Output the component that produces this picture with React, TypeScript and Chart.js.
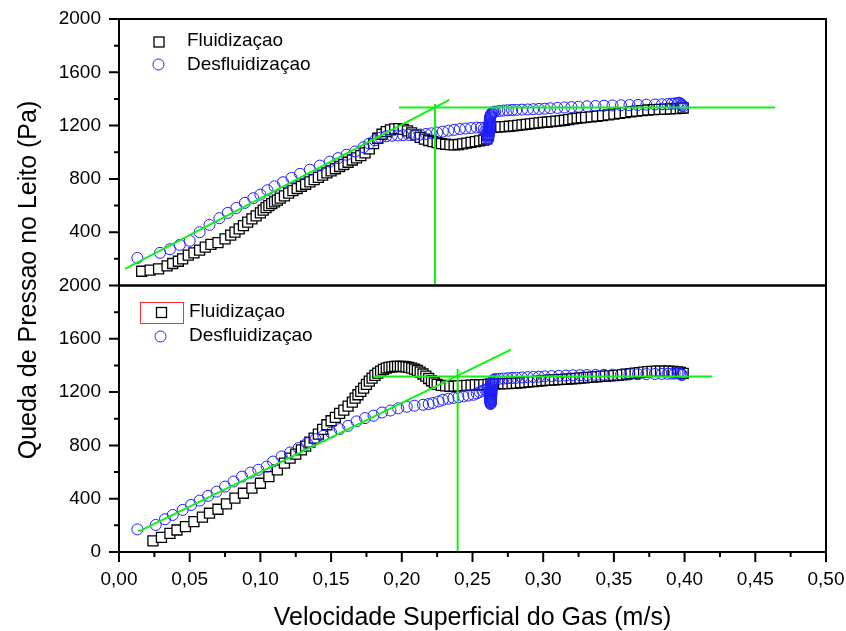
import React, { useEffect, useRef } from 'react';
import { Chart, registerables } from 'chart.js';

Chart.register(...registerables);

// ---------- data: [velocity (m/s), pressure drop (Pa)] ----------
const TOP_FLUID: [number, number][] = [
  [0.016, 107], [0.022, 115], [0.028, 125], [0.034, 148], [0.038, 165], [0.042, 182], [0.045, 200],
  [0.049, 228], [0.053, 245], [0.057, 265], [0.061, 288], [0.065, 308], [0.070, 322], [0.075, 350],
  [0.079, 378], [0.082, 400], [0.085, 425], [0.088, 450], [0.091, 475], [0.094, 500], [0.097, 522],
  [0.100, 545], [0.102, 565], [0.104, 585], [0.106, 600], [0.108, 615], [0.110, 628], [0.112, 640],
  [0.114, 655], [0.117, 672], [0.120, 693], [0.123, 712], [0.126, 728], [0.129, 745], [0.132, 760],
  [0.135, 778], [0.138, 795], [0.141, 812], [0.144, 828], [0.147, 845], [0.150, 860], [0.153, 876],
  [0.156, 893], [0.159, 908], [0.162, 925], [0.165, 942], [0.168, 958], [0.171, 975], [0.174, 995],
  [0.177, 1025], [0.180, 1065], [0.183, 1105], [0.186, 1135], [0.189, 1155], [0.192, 1168], [0.195, 1176],
  [0.198, 1178], [0.201, 1172], [0.204, 1160], [0.207, 1145], [0.210, 1128], [0.213, 1112], [0.216, 1098],
  [0.219, 1088], [0.222, 1080], [0.225, 1072], [0.228, 1065], [0.231, 1060], [0.234, 1057], [0.237, 1056],
  [0.240, 1058], [0.243, 1063], [0.246, 1068], [0.249, 1074], [0.252, 1080], [0.255, 1086], [0.258, 1092],
  [0.260, 1100], [0.261, 1130], [0.2615, 1160], [0.262, 1185], [0.264, 1186], [0.267, 1188], [0.270, 1190],
  [0.273, 1192], [0.276, 1195], [0.279, 1198], [0.282, 1201], [0.285, 1205], [0.288, 1209], [0.291, 1213],
  [0.294, 1217], [0.297, 1220], [0.300, 1224], [0.303, 1227], [0.306, 1230], [0.309, 1233], [0.312, 1236],
  [0.315, 1240], [0.318, 1245], [0.321, 1250], [0.324, 1255], [0.327, 1259], [0.330, 1262], [0.334, 1266],
  [0.338, 1270], [0.342, 1275], [0.346, 1280], [0.350, 1286], [0.354, 1292], [0.358, 1298], [0.362, 1304],
  [0.366, 1309], [0.370, 1313], [0.374, 1317], [0.378, 1320], [0.382, 1322], [0.386, 1324], [0.390, 1326],
  [0.394, 1328], [0.397, 1330], [0.399, 1332],
];

const TOP_DESF: [number, number][] = [
  [0.013, 207], [0.029, 245], [0.036, 272], [0.043, 305], [0.050, 335], [0.057, 400], [0.064, 455],
  [0.071, 505], [0.077, 545], [0.083, 582], [0.089, 620], [0.095, 655], [0.100, 682], [0.105, 715],
  [0.110, 744], [0.116, 775], [0.122, 807], [0.128, 838], [0.135, 869], [0.142, 900], [0.149, 930],
  [0.155, 956], [0.161, 981], [0.167, 1006], [0.173, 1038], [0.177, 1065], [0.181, 1090], [0.185, 1110],
  [0.189, 1120], [0.193, 1124], [0.197, 1126], [0.201, 1128], [0.205, 1130], [0.209, 1131], [0.213, 1133],
  [0.217, 1137], [0.221, 1142], [0.225, 1148], [0.229, 1155], [0.233, 1162], [0.237, 1168], [0.241, 1174],
  [0.245, 1178], [0.249, 1182], [0.253, 1185], [0.256, 1184], [0.258, 1175], [0.259, 1160], [0.260, 1140],
  [0.2605, 1120], [0.261, 1102], [0.2612, 1097], [0.2611, 1110], [0.2613, 1118], [0.2612, 1127],
  [0.2614, 1135], [0.2615, 1142], [0.2614, 1150], [0.2616, 1158], [0.2617, 1166], [0.2616, 1173],
  [0.2618, 1181], [0.2619, 1189], [0.2618, 1196], [0.262, 1204], [0.2621, 1212], [0.262, 1219],
  [0.2622, 1227], [0.2623, 1235], [0.2622, 1242], [0.2624, 1250], [0.2625, 1258], [0.2626, 1265],
  [0.2627, 1272], [0.2629, 1279], [0.2632, 1286], [0.2636, 1292], [0.2642, 1297], [0.2650, 1301],
  [0.266, 1305], [0.269, 1310], [0.272, 1313], [0.275, 1315], [0.278, 1317], [0.281, 1318], [0.285, 1320],
  [0.289, 1321], [0.293, 1323], [0.297, 1325], [0.301, 1327], [0.305, 1330], [0.310, 1333], [0.315, 1336],
  [0.320, 1339], [0.325, 1342], [0.331, 1345], [0.337, 1347], [0.343, 1349], [0.349, 1351], [0.355, 1353],
  [0.361, 1354], [0.367, 1355], [0.373, 1357], [0.379, 1358], [0.384, 1360], [0.388, 1362], [0.391, 1364],
  [0.393, 1366], [0.395, 1368], [0.396, 1372], [0.397, 1365], [0.398, 1358], [0.398, 1350], [0.399, 1345],
];

const BOT_FLUID: [number, number][] = [
  [0.024, 83], [0.030, 110], [0.036, 140], [0.041, 165], [0.047, 190], [0.053, 228], [0.059, 261],
  [0.064, 291], [0.070, 321], [0.076, 361], [0.082, 404], [0.088, 441], [0.094, 479], [0.100, 516],
  [0.106, 566], [0.112, 617], [0.117, 667], [0.121, 705], [0.125, 735], [0.129, 767], [0.132, 795],
  [0.135, 825], [0.138, 855], [0.141, 885], [0.144, 920], [0.147, 955], [0.150, 985], [0.153, 1010],
  [0.156, 1040], [0.159, 1065], [0.162, 1095], [0.165, 1125], [0.167, 1155], [0.169, 1180], [0.171, 1205],
  [0.173, 1230], [0.175, 1258], [0.177, 1282], [0.179, 1305], [0.181, 1325], [0.183, 1343], [0.185, 1358],
  [0.187, 1370], [0.189, 1380], [0.191, 1386], [0.193, 1390], [0.195, 1392], [0.197, 1393], [0.199, 1393],
  [0.201, 1392], [0.203, 1390], [0.205, 1386], [0.207, 1380], [0.209, 1372], [0.211, 1362], [0.213, 1350],
  [0.215, 1336], [0.217, 1320], [0.219, 1302], [0.221, 1285], [0.223, 1270], [0.225, 1258], [0.228, 1250],
  [0.231, 1246], [0.234, 1244], [0.237, 1244], [0.240, 1246], [0.243, 1248], [0.246, 1250], [0.249, 1252],
  [0.252, 1254], [0.255, 1255], [0.258, 1256], [0.261, 1258], [0.263, 1262], [0.266, 1262], [0.269, 1262],
  [0.272, 1263], [0.275, 1264], [0.278, 1266], [0.281, 1268], [0.284, 1270], [0.287, 1273], [0.290, 1276],
  [0.293, 1279], [0.296, 1282], [0.299, 1285], [0.302, 1288], [0.305, 1290], [0.308, 1292], [0.311, 1294],
  [0.314, 1296], [0.317, 1298], [0.320, 1300], [0.323, 1302], [0.326, 1305], [0.329, 1307], [0.332, 1310],
  [0.335, 1312], [0.338, 1315], [0.341, 1318], [0.344, 1320], [0.347, 1322], [0.350, 1324], [0.353, 1326],
  [0.356, 1330], [0.359, 1334], [0.362, 1338], [0.365, 1342], [0.368, 1346], [0.371, 1350], [0.374, 1353],
  [0.377, 1355], [0.380, 1357], [0.383, 1358], [0.386, 1358], [0.389, 1357], [0.392, 1355], [0.395, 1352],
  [0.397, 1348], [0.399, 1340],
];

const BOT_DESF: [number, number][] = [
  [0.013, 170], [0.026, 203], [0.0325, 246], [0.038, 278], [0.045, 316], [0.051, 353], [0.057, 386],
  [0.063, 421], [0.069, 453], [0.075, 491], [0.081, 529], [0.087, 566], [0.093, 596], [0.0985, 617],
  [0.1045, 641], [0.109, 679], [0.115, 717], [0.121, 747], [0.127, 780], [0.133, 817], [0.139, 847],
  [0.1445, 872], [0.150, 897], [0.156, 922], [0.162, 947], [0.168, 980], [0.174, 1005], [0.180, 1023],
  [0.186, 1047], [0.192, 1062], [0.1975, 1078], [0.2035, 1090], [0.209, 1098], [0.215, 1105], [0.219, 1110],
  [0.222, 1118], [0.226, 1130], [0.229, 1142], [0.233, 1150], [0.2365, 1156], [0.240, 1162], [0.2435, 1168],
  [0.247, 1174], [0.2506, 1180], [0.253, 1190], [0.255, 1200], [0.257, 1210], [0.259, 1218], [0.2605, 1222],
  [0.2618, 1214], [0.2622, 1205], [0.2620, 1196], [0.2623, 1188], [0.2621, 1180], [0.2624, 1172],
  [0.2622, 1164], [0.2625, 1156], [0.2624, 1148], [0.2626, 1140], [0.2625, 1132], [0.2627, 1124],
  [0.2628, 1116], [0.2628, 1110], [0.2629, 1118], [0.2630, 1126], [0.2629, 1134], [0.2631, 1142],
  [0.2630, 1150], [0.2632, 1158], [0.2631, 1166], [0.2633, 1174], [0.2632, 1182], [0.2634, 1190],
  [0.2633, 1198], [0.2635, 1206], [0.2634, 1214], [0.2636, 1222], [0.2635, 1230], [0.2637, 1238],
  [0.2636, 1246], [0.2638, 1254], [0.2637, 1262], [0.2639, 1270], [0.2641, 1278], [0.2644, 1286],
  [0.2650, 1292], [0.266, 1298], [0.269, 1300], [0.272, 1302], [0.275, 1304], [0.278, 1306], [0.281, 1308],
  [0.285, 1310], [0.289, 1312], [0.293, 1314], [0.297, 1316], [0.301, 1318], [0.306, 1320], [0.311, 1322],
  [0.316, 1324], [0.321, 1326], [0.326, 1327], [0.331, 1328], [0.337, 1329], [0.343, 1330], [0.349, 1331],
  [0.355, 1332], [0.361, 1333], [0.367, 1334], [0.373, 1335], [0.379, 1336], [0.384, 1337], [0.388, 1338],
  [0.391, 1339], [0.393, 1340], [0.395, 1342], [0.396, 1345], [0.397, 1338], [0.398, 1332], [0.398, 1328],
];

// green construction lines (minimum fluidization velocity)
const TOP_SLOPE: [number, number][] = [[0.0042, 125], [0.2336, 1393]];
const TOP_PLATEAU: [number, number][] = [[0.198, 1336], [0.464, 1336]];
const TOP_UMF: [number, number][] = [[0.2235, 0], [0.2235, 1363]];
const BOT_SLOPE: [number, number][] = [[0.0137, 153], [0.2772, 1519]];
const BOT_PLATEAU: [number, number][] = [[0.180, 1318], [0.4196, 1318]];
const BOT_UMF: [number, number][] = [[0.2395, 0], [0.2395, 1376]];

const X_TICKS = [0, 0.05, 0.1, 0.15, 0.2, 0.25, 0.3, 0.35, 0.4, 0.45, 0.5];
const Y_TICKS_TOP = [400, 800, 1200, 1600, 2000];
const Y_TICKS_BOT = [0, 400, 800, 1200, 1600, 2000];

const LEGEND_FLUID = 'Fluidizaçao';
const LEGEND_DESF = 'Desfluidizaçao';
const X_TITLE = 'Velocidade Superficial do Gas (m/s)';
const Y_TITLE = 'Queda de Pressao no Leito (Pa)';

const FONT = "'Liberation Sans', Arial, Helvetica, sans-serif";
const BLUE = 'rgb(30,30,255)';
const GREEN = '#14f014';

const toXY = (arr: [number, number][]) => arr.map(([x, y]) => ({ x, y }));

const squareDs = (arr: [number, number][], axis: string) => ({
  data: toXY(arr),
  yAxisID: axis,
  pointStyle: 'rect',
  pointRadius: 7.07,
  pointBorderWidth: 1.3,
  pointBorderColor: '#000',
  pointBackgroundColor: '#ffffff',
  showLine: false,
  order: 2,
});
const circleDs = (arr: [number, number][], axis: string) => ({
  data: toXY(arr),
  yAxisID: axis,
  pointStyle: 'circle',
  pointRadius: 5.5,
  pointBorderWidth: 1,
  pointBorderColor: BLUE,
  pointBackgroundColor: 'rgba(0,0,0,0)',
  showLine: false,
  order: 1,
});
const lineDs = (arr: [number, number][], axis: string) => ({
  data: toXY(arr),
  yAxisID: axis,
  showLine: true,
  borderColor: GREEN,
  borderWidth: 2,
  pointRadius: 0,
  fill: false,
  order: 0,
});

const decor = {
  id: 'decor',
  afterDatasetsDraw(chart: any) {
    const { ctx } = chart;
    const xs = chart.scales.x;
    const yt = chart.scales.yTop;
    const yb = chart.scales.yBot;
    const left = xs.left;
    const right = xs.right;
    ctx.save();
    ctx.strokeStyle = '#000';
    ctx.lineWidth = 2;
    for (const s of [yt, yb]) {
      ctx.strokeRect(left, s.top, right - left, s.bottom - s.top);
    }
    ctx.beginPath();
    for (const s of [yt, yb]) {
      for (let v = 0; v <= 2000; v += 200) {
        const y = s.getPixelForValue(v);
        const len = v % 400 === 0 ? 10 : 5;
        ctx.moveTo(left - len, y);
        ctx.lineTo(left, y);
      }
    }
    for (let i = 0; i <= 20; i++) {
      const x = xs.getPixelForValue(i * 0.025);
      const len = i % 2 === 0 ? 10 : 5;
      ctx.moveTo(x, yb.bottom);
      ctx.lineTo(x, yb.bottom + len);
    }
    ctx.stroke();
    ctx.restore();
  },
  afterDraw(chart: any) {
    const { ctx } = chart;
    ctx.save();
    const drawSquare = (x: number, y: number) => {
      ctx.fillStyle = '#fff';
      ctx.strokeStyle = '#000';
      ctx.lineWidth = 1.3;
      ctx.fillRect(x - 5, y - 5, 10, 10);
      ctx.strokeRect(x - 5, y - 5, 10, 10);
    };
    const drawCircle = (x: number, y: number) => {
      ctx.strokeStyle = BLUE;
      ctx.lineWidth = 1;
      ctx.beginPath();
      ctx.arc(x, y, 5.5, 0, Math.PI * 2);
      ctx.stroke();
    };
    ctx.font = `19px ${FONT}`;
    ctx.textAlign = 'left';
    ctx.textBaseline = 'middle';
    drawSquare(159, 42);
    ctx.fillStyle = '#000';
    ctx.fillText(LEGEND_FLUID, 187, 41);
    drawCircle(158.5, 64.5);
    ctx.fillText(LEGEND_DESF, 187, 65);

    ctx.strokeStyle = '#ff3030';
    ctx.lineWidth = 1;
    ctx.strokeRect(140.5, 302.5, 43, 21);
    drawSquare(161.5, 312.5);
    ctx.fillStyle = '#000';
    ctx.fillText(LEGEND_FLUID, 189, 312);
    drawCircle(160.5, 336.5);
    ctx.fillText(LEGEND_DESF, 189, 336);

    ctx.font = `25px ${FONT}`;
    ctx.textAlign = 'center';
    ctx.textBaseline = 'alphabetic';
    ctx.fillText(X_TITLE, (chart.chartArea.left + chart.chartArea.right) / 2, 625);
    ctx.translate(36, 280);
    ctx.rotate(-Math.PI / 2);
    ctx.fillText(Y_TITLE, 0, 0);
    ctx.restore();
  },
};

const yScale = (ticks: number[]) => ({
  type: 'linear',
  position: 'left',
  stack: 'panels',
  stackWeight: 1,
  min: 0,
  max: 2000,
  grid: { display: false, drawTicks: false },
  border: { display: false },
  afterBuildTicks: (s: any) => {
    s.ticks = ticks.map((value) => ({ value }));
  },
  afterFit: (s: any) => {
    s.width = 119;
    s.paddingTop = 0;
    s.paddingBottom = 0;
    s.paddingLeft = 0;
    s.paddingRight = 0;
  },
  ticks: {
    color: '#000',
    font: { family: FONT, size: 19 },
    padding: 18,
    autoSkip: false,
    callback: (v: any) => String(v),
  },
});

export default function App() {
  const ref = useRef<HTMLCanvasElement | null>(null);
  useEffect(() => {
    if (!ref.current) return;
    const chart = new Chart(ref.current, {
      type: 'scatter',
      data: {
        datasets: [
          lineDs(TOP_SLOPE, 'yTop'),
          lineDs(TOP_PLATEAU, 'yTop'),
          lineDs(TOP_UMF, 'yTop'),
          lineDs(BOT_SLOPE, 'yBot'),
          lineDs(BOT_PLATEAU, 'yBot'),
          lineDs(BOT_UMF, 'yBot'),
          circleDs(TOP_DESF, 'yTop'),
          circleDs(BOT_DESF, 'yBot'),
          squareDs(TOP_FLUID, 'yTop'),
          squareDs(BOT_FLUID, 'yBot'),
        ] as any,
      },
      options: {
        responsive: false,
        animation: false,
        events: [],
        devicePixelRatio: 1,
        layout: { padding: { left: 0, right: 20, top: 19, bottom: 0 } },
        plugins: { legend: { display: false }, tooltip: { enabled: false }, title: { display: false } },
        scales: {
          x: {
            type: 'linear',
            position: 'bottom',
            min: 0,
            max: 0.5,
            grid: { display: false, drawTicks: false },
            border: { display: false },
            afterBuildTicks: (s: any) => {
              s.ticks = X_TICKS.map((value) => ({ value }));
            },
            afterFit: (s: any) => {
              s.height = 79;
              s.paddingTop = 0;
              s.paddingBottom = 0;
              s.paddingLeft = 0;
              s.paddingRight = 0;
            },
            ticks: {
              color: '#000',
              font: { family: FONT, size: 19 },
              padding: 16,
              maxRotation: 0,
              autoSkip: false,
              callback: (v: any) => Number(v).toFixed(2).replace('.', ','),
            },
          },
          yBot: yScale(Y_TICKS_BOT),
          yTop: yScale(Y_TICKS_TOP),
        } as any,
      },
      plugins: [decor],
    });
    return () => chart.destroy();
  }, []);
  return (
    <div style={{ position: 'fixed', left: 0, top: 0, width: 846, height: 631, background: '#fff' }}>
      <canvas ref={ref} width={846} height={631} style={{ width: 846, height: 631, display: 'block' }} />
    </div>
  );
}
